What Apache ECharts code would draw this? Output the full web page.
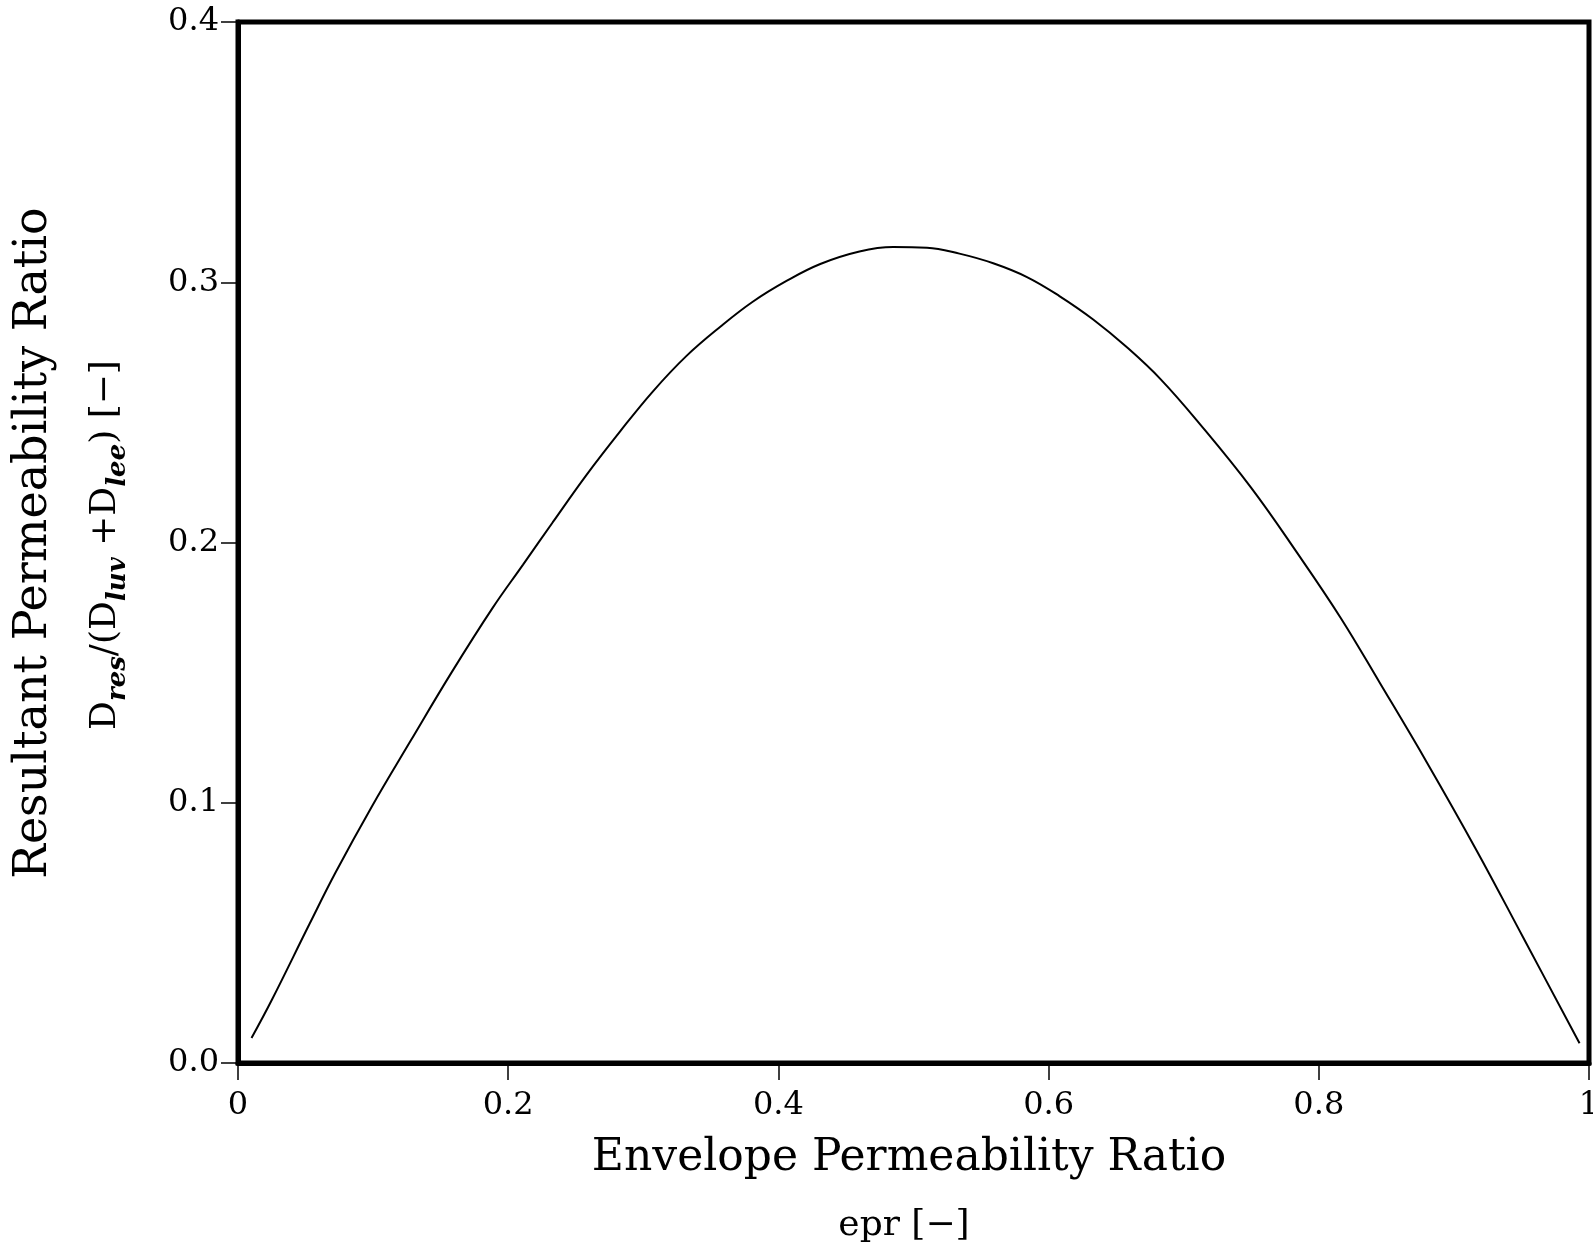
<!DOCTYPE html>
<html>
<head>
<meta charset="utf-8">
<script src="https://cdn.jsdelivr.net/npm/echarts@6/dist/echarts.min.js"></script>
<style>
html,body{margin:0;padding:0;background:#fff;}
#chart{width:1593px;height:1249px;}
</style>
</head>
<body>
<div id="chart"></div>
<script>
// Data
var eprValues = [0.010, 0.025, 0.053, 0.072, 0.099, 0.128, 0.158, 0.188, 0.211, 0.233, 0.258, 0.283, 0.307, 0.332, 0.357, 0.381, 0.406, 0.431, 0.460, 0.485, 0.510, 0.534, 0.559, 0.584, 0.608, 0.633, 0.658, 0.683, 0.712, 0.750, 0.784, 0.816, 0.845, 0.880, 0.917, 0.951, 0.993];
var ratioValues = [0.0096, 0.0242, 0.0535, 0.0730, 0.0985, 0.1240, 0.1500, 0.1745, 0.1915, 0.2078, 0.2260, 0.2428, 0.2580, 0.2717, 0.2829, 0.2925, 0.3005, 0.3070, 0.3118, 0.3135, 0.3133, 0.3110, 0.3073, 0.3020, 0.2947, 0.2857, 0.2750, 0.2627, 0.2455, 0.2210, 0.1960, 0.1712, 0.1462, 0.1155, 0.0815, 0.0485, 0.0076];
var xTickLabels = {0: '0', 0.2: '0.2', 0.4: '0.4', 0.6: '0.6', 0.8: '0.8', 1: '1'};
var yTickLabels = {0: '0.0', 0.1: '0.1', 0.2: '0.2', 0.3: '0.3', 0.4: '0.4'};
var xTitle = 'Envelope Permeability Ratio';
var xSubtitle = 'epr [\u2212]';
var yTitle = 'Resultant Permeability Ratio';

var FONT = '"DejaVu Serif", "Liberation Serif", serif';
var chart = echarts.init(document.getElementById('chart'));

function label(map, v) {
  var k = Math.round(v * 10) / 10;
  return map[k] !== undefined ? map[k] : '';
}

var pts = eprValues.map(function (x, i) { return [x, ratioValues[i]]; });

var option = {
  backgroundColor: '#fff',
  animation: false,
  grid: {
    left: 238, right: 4, top: 22, bottom: 186,
    containLabel: false, outerBoundsMode: 'none',
    show: true, borderColor: '#000', borderWidth: 5, backgroundColor: 'transparent'
  },
  xAxis: {
    type: 'value', min: 0, max: 1, interval: 0.2,
    axisLine: { show: true, onZero: false, lineStyle: { color: '#000', width: 5 } },
    axisTick: { show: true, inside: false, length: 17, lineStyle: { color: '#000', width: 1.5 } },
    splitLine: { show: false },
    axisLabel: {
      color: '#000', fontFamily: FONT, fontSize: 32, margin: 27,
      formatter: function (v) { return label(xTickLabels, v); }
    }
  },
  yAxis: {
    type: 'value', min: 0, max: 0.4, interval: 0.1,
    axisLine: { show: true, onZero: false, lineStyle: { color: '#000', width: 5 } },
    axisTick: { show: true, inside: false, length: 17, lineStyle: { color: '#000', width: 1.5 } },
    splitLine: { show: false },
    axisLabel: {
      color: '#000', fontFamily: FONT, fontSize: 32, margin: 19,
      formatter: function (v) { return label(yTickLabels, v); }
    }
  },
  series: [{
    type: 'line',
    data: pts,
    showSymbol: false,
    smooth: 0.4,
    lineStyle: { color: '#000', width: 2 }
  }],
  graphic: [
    {
      type: 'text', x: 909, y: 1159,
      style: { text: xTitle, font: '44px ' + FONT, fill: '#000', textAlign: 'center', textVerticalAlign: 'middle' }
    },
    {
      type: 'text', x: 904, y: 1226,
      style: { text: xSubtitle, font: '36px ' + FONT, fill: '#000', textAlign: 'center', textVerticalAlign: 'middle' }
    },
    {
      type: 'text', x: 34, y: 543, rotation: Math.PI / 2,
      style: { text: yTitle, font: '46px ' + FONT, fill: '#000', textAlign: 'center', textVerticalAlign: 'middle' }
    },
    {
      type: 'text', x: 106, y: 545, rotation: Math.PI / 2,
      style: {
        text: '{m|D}{s|res}{m|/(D}{s|luv}{m| +D}{s|lee}{m|) [\u2212]}',
        fill: '#000', textAlign: 'center', textVerticalAlign: 'middle',
        rich: {
          m: { fontFamily: FONT, fontSize: 36, lineHeight: 50, verticalAlign: 'middle', fill: '#000' },
          s: { fontFamily: FONT, fontSize: 26, fontStyle: 'italic', fontWeight: 'bold', lineHeight: 50, verticalAlign: 'bottom', fill: '#000' }
        }
      }
    }
  ]
};
chart.setOption(option);
</script>
</body>
</html>
